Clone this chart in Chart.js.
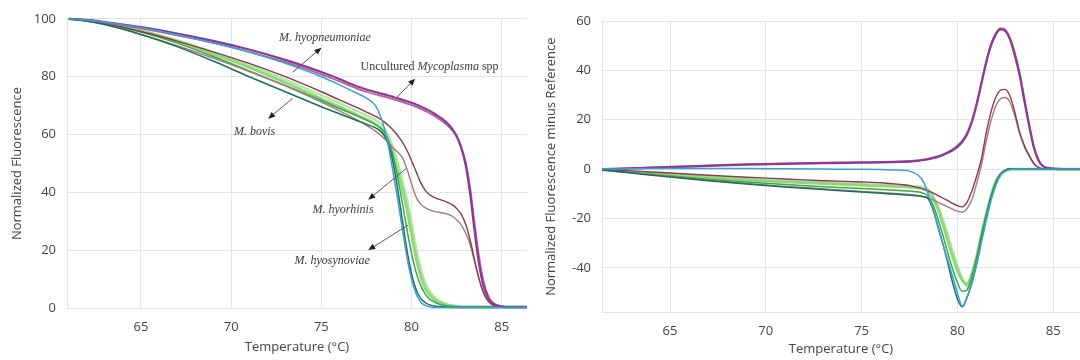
<!DOCTYPE html>
<html>
<head>
<meta charset="utf-8">
<script src="https://cdn.jsdelivr.net/npm/chart.js@4/dist/chart.umd.min.js"></script>
<style>
  body { margin: 0; background: #fff; }
  #wrap { position: relative; width: 1080px; height: 360px; overflow: hidden; }
  canvas { position: absolute; top: 0; }
  #melt { left: 0; }
  #diff { left: 540px; }
</style>
</head>
<body>
<div id="wrap">
  <canvas id="melt" width="535" height="360"></canvas>
  <canvas id="diff" width="540" height="360"></canvas>
</div>
<script>
// temperature grid (°C) shared by every curve
const temps = [61, 62, 63, 65, 67, 69, 71, 73, 75, 76, 77,
  77.5, 78, 78.25, 78.5, 78.75, 79, 79.25, 79.5, 79.75,
  80, 80.25, 80.5, 80.75, 81, 81.25, 81.5, 81.75,
  82, 82.25, 82.5, 82.75, 83, 83.25, 83.5, 83.75,
  84, 84.25, 84.5, 85, 85.5, 86, 86.4]

// left panel: normalized fluorescence
const meltPurpleA = [100, 99.6, 98.9, 97.1, 94.9, 92.4, 89.4, 85.8, 81.6, 79.2, 76.6,
  75.6, 74.7, 74.3, 73.9, 73.4, 73.0, 72.5, 72.0, 71.5,
  71.0, 70.4, 69.7, 69.0, 68.2, 67.3, 66.3, 65.2,
  63.8, 62.0, 59.5, 55.5, 49.5, 39.5, 26.5, 15.0,
  7.5, 3.5, 1.6, 0.6, 0.4, 0.4, 0.4]
const meltPurpleB = [100, 99.5, 98.7, 96.7, 94.3, 91.7, 88.6, 85.0, 80.8, 78.4, 75.8,
  74.8, 73.9, 73.5, 73.1, 72.6, 72.2, 71.7, 71.2, 70.7,
  70.2, 69.6, 68.9, 68.2, 67.4, 66.5, 65.5, 64.4,
  63.1, 61.5, 59.3, 55.8, 50.5, 41.5, 29.0, 17.5,
  9.0, 4.3, 2.0, 0.7, 0.5, 0.5, 0.5]
const meltBlue = [100, 99.6, 98.8, 96.9, 94.5, 91.7, 88.5, 84.6, 80.0, 77.2, 74.2,
  72.6, 70.0, 66.8, 62.0, 55.0, 46.0, 37.0, 27.0, 17.5,
  10.0, 5.0, 2.2, 1.0, 0.5, 0.3, 0.3, 0.3,
  0.3, 0.3, 0.3, 0.3, 0.3, 0.3, 0.3, 0.3,
  0.3, 0.3, 0.3, 0.3, 0.3, 0.3, 0.3]
const meltBrownA = [100, 99.4, 98.4, 95.6, 92.3, 88.6, 84.6, 80.0, 74.8, 72.0, 69.3,
  67.8, 66.3, 65.4, 64.3, 63.0, 61.4, 59.5, 57.3, 54.5,
  51.0, 47.3, 43.5, 40.8, 39.2, 38.3, 37.7, 37.2,
  36.6, 35.8, 34.5, 32.5, 29.0, 23.5, 16.5, 10.0,
  5.2, 2.5, 1.2, 0.6, 0.5, 0.5, 0.5]
const meltBrownB = [100, 99.2, 98.0, 94.6, 90.7, 86.4, 81.8, 76.8, 71.2, 68.2, 65.0,
  63.2, 61.2, 60.0, 58.6, 57.0, 55.3, 53.8, 52.0, 48.0,
  43.0, 38.5, 36.0, 34.8, 34.0, 33.5, 33.2, 32.9,
  32.5, 31.8, 30.6, 28.8, 26.0, 22.0, 16.0, 10.0,
  5.2, 2.5, 1.2, 0.6, 0.5, 0.5, 0.5]
const meltDarkGreen = [100, 99.2, 98.0, 94.6, 90.4, 85.4, 80.0, 74.8, 69.6, 67.2, 64.8,
  63.6, 62.3, 61.3, 59.6, 56.0, 49.5, 40.5, 30.0, 20.0,
  12.0, 6.5, 3.5, 2.0, 1.2, 0.8, 0.6, 0.5,
  0.4, 0.3, 0.3, 0.3, 0.3, 0.3, 0.3, 0.3,
  0.3, 0.3, 0.3, 0.3, 0.3, 0.3, 0.3]
const meltGreen = [100, 99.3, 98.3, 95.4, 91.6, 87.0, 82.0, 77.0, 71.8, 69.0, 66.4,
  65.0, 63.5, 62.5, 60.8, 57.5, 52.0, 44.5, 36.0, 27.0,
  19.0, 12.5, 8.0, 5.0, 3.2, 2.2, 1.5, 1.1,
  0.8, 0.7, 0.6, 0.5, 0.5, 0.5, 0.5, 0.5,
  0.5, 0.5, 0.5, 0.5, 0.5, 0.5, 0.5]
const meltLightGreen = [100, 99.4, 98.5, 95.8, 92.2, 87.8, 83.2, 78.0, 72.4, 69.6, 66.8,
  65.3, 63.6, 62.3, 60.2, 57.0, 52.5, 47.0, 40.8, 34.0,
  25.5, 17.5, 11.2, 7.0, 4.6, 3.1, 2.1, 1.5,
  1.1, 0.8, 0.6, 0.5, 0.5, 0.5, 0.5, 0.5,
  0.5, 0.5, 0.5, 0.5, 0.5, 0.5, 0.5]
const meltPaleGreen = [100, 99.5, 98.6, 96.1, 92.7, 88.5, 84.0, 79.0, 73.6, 70.9, 68.1,
  66.7, 65.1, 63.9, 62.0, 59.2, 55.0, 50.0, 44.0, 37.5,
  29.5, 21.0, 14.0, 9.0, 6.0, 4.0, 2.7, 1.9,
  1.4, 1.0, 0.8, 0.6, 0.5, 0.5, 0.5, 0.5,
  0.5, 0.5, 0.5, 0.5, 0.5, 0.5, 0.5]

// right panel: normalized fluorescence minus reference
const diffPurpleA = [0, 0.1, 0.3, 0.8, 1.3, 1.8, 2.1, 2.4, 2.6, 2.7, 2.9,
  3.0, 3.4, 3.7, 4.0, 4.5, 5.0, 5.7, 6.6, 7.6,
  9.0, 11.0, 14.0, 19.0, 26.0, 34.5, 43.0, 50.0,
  54.5, 56.6, 56.0, 52.5, 46.0, 38.0, 27.5, 17.5,
  8.5, 3.3, 1.0, 0.2, 0, 0, 0]
const diffPurpleB = [0, 0.1, 0.4, 1.0, 1.5, 2.0, 2.3, 2.6, 2.8, 2.9, 3.1,
  3.3, 3.6, 3.9, 4.3, 4.8, 5.3, 6.0, 6.9, 8.0,
  9.5, 11.5, 14.5, 19.5, 26.5, 35.0, 43.5, 50.5,
  55.0, 57.0, 56.5, 53.0, 47.0, 39.0, 28.5, 18.0,
  9.0, 3.5, 1.0, 0.2, 0, 0, 0]
const diffBlue = [0, 0, 0.1, 0.2, 0.2, 0.2, 0.1, 0, -0.1, -0.2, -0.4,
  -0.8, -2.8, -5.5, -10.8, -16.8, -24.0, -30.5, -37.0, -43.5,
  -50.0, -55.5, -52.0, -46.5, -38.5, -29.5, -20.5, -12.5,
  -6.5, -2.5, -0.8, -0.2, 0, 0, 0, 0,
  0, 0, 0, 0, 0, 0, 0]
const diffBrownA = [0, -0.3, -0.7, -1.6, -2.5, -3.3, -4.0, -4.7, -5.2, -5.5, -6.2,
  -6.7, -7.6, -8.2, -8.9, -9.7, -10.7, -11.8, -12.8, -13.9,
  -14.8, -15.3, -13.5, -9.0, -3.0, 4.0, 14.5, 23.0,
  29.0, 32.0, 32.3, 29.5, 23.0, 15.0, 9.5, 5.5,
  2.2, 0.6, 0.1, 0, 0, 0, 0]
const diffBrownB = [0, -0.6, -1.4, -3.0, -4.5, -5.8, -7.0, -8.0, -9.0, -9.5, -10.0,
  -10.3, -10.8, -11.2, -11.8, -12.6, -13.5, -14.4, -15.3, -16.2,
  -17.0, -17.4, -16.0, -12.5, -6.0, 1.5, 11.0, 19.5,
  25.5, 28.5, 29.0, 27.0, 21.5, 14.5, 9.0, 5.2,
  2.1, 0.6, 0.1, 0, 0, 0, 0]
const diffDarkGreen = [0, -0.8, -1.6, -3.2, -4.7, -6.0, -7.2, -8.3, -9.3, -9.8, -10.3,
  -10.6, -10.9, -11.2, -12.2, -17.0, -23.5, -30.5, -38.0, -46.0,
  -52.5, -55.8, -52.0, -46.0, -38.5, -29.0, -20.0, -12.0,
  -6.0, -2.2, -0.5, 0, 0, 0, 0, 0,
  0, 0, 0, 0, 0, 0, 0]
const diffGreen = [0, -0.6, -1.4, -2.8, -4.1, -5.2, -6.2, -7.1, -7.9, -8.3, -8.7,
  -8.9, -9.3, -9.8, -11.2, -15.0, -20.5, -27.0, -34.0, -40.5,
  -46.0, -49.5, -49.0, -43.5, -36.0, -27.0, -18.5, -11.0,
  -5.2, -2.0, -0.5, 0, 0, 0, 0, 0,
  0, 0, 0, 0, 0, 0, 0]
const diffLightGreen = [0, -0.5, -1.2, -2.4, -3.5, -4.4, -5.2, -5.9, -6.5, -6.8, -7.1,
  -7.3, -7.6, -8.0, -9.0, -12.0, -16.5, -22.5, -29.0, -35.5,
  -41.0, -45.0, -46.5, -42.5, -35.5, -26.5, -18.5, -11.0,
  -5.0, -2.0, -0.6, 0, 0, 0, 0, 0,
  0, 0, 0, 0, 0, 0, 0]
const diffPaleGreen = [0, -0.4, -1.0, -2.1, -3.1, -4.0, -4.8, -5.4, -6.0, -6.3, -6.6,
  -6.8, -7.1, -7.5, -8.4, -11.0, -15.0, -20.5, -26.5, -33.0,
  -39.0, -44.0, -47.5, -45.0, -38.5, -29.5, -21.0, -13.0,
  -6.5, -2.5, -0.8, 0, 0, 0, 0, 0,
  0, 0, 0, 0, 0, 0, 0]

const xTicks = [65, 70, 75, 80, 85]

// labels with arrows on the left panel, in data units
const meltNotes = [
  { text: [['M. hyopneumoniae', true]], at: [75.2, 93.4], from: [73.4, 81.5], to: [75.0, 90.0] },
  { text: [['Uncultured ', false], ['Mycoplasma', true], [' spp', false]], at: [81.0, 83.3], from: [79.2, 73.0], to: [80.2, 79.3] },
  { text: [['M. bovis', true]], at: [71.3, 60.8], from: [73.4, 72.5], to: [72.05, 65.5] },
  { text: [['M. hyorhinis', true]], at: [76.2, 34.1], from: [79.7, 48.3], to: [77.6, 37.5] },
  { text: [['M. hyosynoviae', true]], at: [75.6, 16.5], from: [79.8, 28.7], to: [77.6, 20.1] }
]

const font = '"Open Sans", "DejaVu Sans", sans-serif'
const gridColor = '#e1e5ea'
const textColor = '#444'

// first entry is drawn on top
const meltSets = [
  [meltBlue, '#3c9fd8', 1.5],
  [meltDarkGreen, '#17705a', 1.5],
  [meltPurpleA, '#8b3b8f', 2.2],
  [meltPurpleB, '#b45ca9', 1.8],
  [meltBrownA, '#8b3a50', 1.4],
  [meltBrownB, '#a7787c', 1.4],
  [meltGreen, '#3aaa3c', 1.5],
  [meltLightGreen, '#8fd67d', 2.8],
  [meltPaleGreen, '#b5e3a2', 2.2]
]
const diffSets = [
  [diffBlue, '#3c9fd8', 1.5],
  [diffDarkGreen, '#17705a', 1.5],
  [diffPurpleA, '#8b3b8f', 2.2],
  [diffPurpleB, '#b45ca9', 1.8],
  [diffBrownA, '#8b3a50', 1.4],
  [diffBrownB, '#a7787c', 1.4],
  [diffGreen, '#3aaa3c', 1.5],
  [diffLightGreen, '#8fd67d', 2.8],
  [diffPaleGreen, '#b5e3a2', 2.2]
]

const toDatasets = sets => sets.map(([vals, color, w]) => ({
  data: temps.map((t, i) => ({ x: t, y: vals[i] })),
  borderColor: color,
  borderWidth: w,
  pointRadius: 0,
  cubicInterpolationMode: 'monotone',
  clip: { left: 0, top: 4, right: 0, bottom: 4 }
}))

const notesPlugin = {
  id: 'notes',
  afterDatasetsDraw(chart) {
    const { ctx } = chart
    const x = chart.scales.x, y = chart.scales.y
    ctx.save()
    meltNotes.forEach(n => {
      const x1 = x.getPixelForValue(n.from[0]), y1 = y.getPixelForValue(n.from[1])
      const x2 = x.getPixelForValue(n.to[0]), y2 = y.getPixelForValue(n.to[1])
      const a = Math.atan2(y2 - y1, x2 - x1)
      ctx.strokeStyle = '#555'
      ctx.fillStyle = '#222'
      ctx.lineWidth = 1
      ctx.beginPath()
      ctx.moveTo(x1, y1)
      ctx.lineTo(x2 - 5 * Math.cos(a), y2 - 5 * Math.sin(a))
      ctx.stroke()
      ctx.beginPath()
      ctx.moveTo(x2, y2)
      ctx.lineTo(x2 - 7 * Math.cos(a) + 3 * Math.sin(a), y2 - 7 * Math.sin(a) - 3 * Math.cos(a))
      ctx.lineTo(x2 - 7 * Math.cos(a) - 3 * Math.sin(a), y2 - 7 * Math.sin(a) + 3 * Math.cos(a))
      ctx.closePath()
      ctx.fill()

      const parts = n.text.map(([s, it]) => ({ s, f: (it ? 'italic ' : '') + '12px "Liberation Serif", "DejaVu Serif", serif' }))
      let w = 0
      parts.forEach(p => { ctx.font = p.f; p.w = ctx.measureText(p.s).width; w += p.w })
      let tx = x.getPixelForValue(n.at[0]) - w / 2
      const ty = y.getPixelForValue(n.at[1])
      ctx.fillStyle = '#3a3a3a'
      ctx.textAlign = 'left'
      ctx.textBaseline = 'middle'
      parts.forEach(p => { ctx.font = p.f; ctx.fillText(p.s, tx, ty); tx += p.w })
    })
    ctx.restore()
  }
}

const makeOptions = (cfg) => ({
  responsive: false,
  animation: false,
  events: [],
  layout: { padding: { top: cfg.top, right: cfg.right, bottom: 0, left: 0 } },
  plugins: { legend: { display: false }, tooltip: { enabled: false } },
  scales: {
    x: {
      type: 'linear',
      min: cfg.xMin,
      max: cfg.xMax,
      afterBuildTicks: s => { s.ticks = xTicks.map(v => ({ value: v })) },
      afterFit: s => { s.height = cfg.xHeight },
      ticks: { padding: 11, color: textColor, font: { family: font, size: 13 } },
      grid: { color: gridColor, drawTicks: false },
      border: { color: gridColor },
      title: { display: true, text: 'Temperature (°C)', color: textColor, font: { family: font, size: 13 }, padding: { top: cfg.xTitlePad, bottom: cfg.xTitlePad } }
    },
    y: {
      min: cfg.yMin,
      max: cfg.yMax,
      afterBuildTicks: s => { s.ticks = cfg.yTicks.map(v => ({ value: v })) },
      afterFit: s => { s.width = cfg.yWidth },
      ticks: { padding: 11, color: textColor, font: { family: font, size: 13 } },
      grid: { color: gridColor, drawTicks: false },
      border: { color: gridColor },
      title: { display: true, text: cfg.yTitle, color: textColor, font: { family: font, size: 13 }, padding: { top: cfg.yTitlePad, bottom: 0 } }
    }
  }
})

new Chart(document.getElementById('melt'), {
  type: 'line',
  data: { datasets: toDatasets(meltSets) },
  options: makeOptions({
    top: 18.3, right: 8, xMin: 60.9, xMax: 86.4, xHeight: 51.7, xTitlePad: 5,
    yMin: 0, yMax: 100, yTicks: [0, 20, 40, 60, 80, 100], yWidth: 67, yTitlePad: 9,
    yTitle: 'Normalized Fluorescence'
  }),
  plugins: [notesPlugin]
})

new Chart(document.getElementById('diff'), {
  type: 'line',
  data: { datasets: toDatasets(diffSets) },
  options: makeOptions({
    top: 21, right: 0, xMin: 61.45, xMax: 86.4, xHeight: 47.7, xTitlePad: 3,
    yMin: -58, yMax: 60, yTicks: [-40, -20, 0, 20, 40, 60], yWidth: 62, yTitlePad: 3,
    yTitle: 'Normalized Fluorescence minus Reference'
  })
})
</script>
</body>
</html>
